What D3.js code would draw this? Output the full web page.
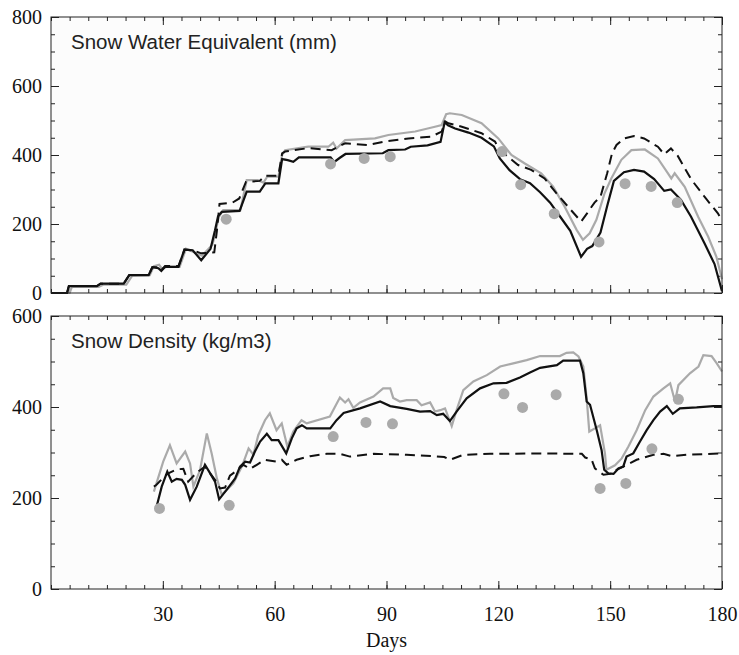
<!DOCTYPE html>
<html>
<head>
<meta charset="utf-8">
<script src="https://cdn.jsdelivr.net/npm/d3@7"></script>
<style>
  body { margin: 0; background: #fff; }
  .tick line { stroke: #222; }
  .num text { font-family: "Liberation Serif", "Times New Roman", serif; font-size: 20px; fill: #111; }
  .title { font-family: "Liberation Sans", Arial, sans-serif; font-size: 20.5px; fill: #222; }
  .xlabel { font-family: "Liberation Serif", "Times New Roman", serif; font-size: 20px; fill: #111; }
</style>
</head>
<body>
<script>
'use strict';

// ---- data ----
// snow water equivalent (mm), [day, value]
var sweBlack = [[0,0],[4.3,0],[4.8,20],[12.3,20],[13.3,27],[19.5,27],[21,52],[26.2,52],[27.2,75],[28.8,72],[29.6,64],[30.6,76],[34.2,76],[35.8,126],[38,124],[40.3,95],[42.8,128],[44,182],[44.8,222],[45.8,235],[50.6,238],[52.5,294],[56,294],[57.5,318],[61,318],[62,388],[63.5,385],[65,380],[66.5,393],[75,393],[76,380],[77.5,392],[79,403],[89,405],[90.5,414],[95,416],[96.5,424],[101,428],[104.5,438],[105.6,495],[106.5,486],[108.4,477],[112,465],[115.5,450],[118.8,425],[120.4,390],[123,356],[125.8,330],[128.5,318],[131.2,292],[133.9,262],[136.6,221],[139.3,180],[142.2,105],[143.8,128],[145.2,136],[147.4,175],[149.2,252],[151,325],[153.7,350],[156.4,357],[159.1,352],[161.8,330],[164.5,296],[166.3,300],[169,270],[171.7,221],[175.3,144],[178,84],[180,5]];
var sweDashed = [[0,0],[4.3,0],[4.8,20],[12.3,20],[13.3,27],[19.5,27],[21,52],[26.2,52],[27.2,75],[28.8,75],[29.6,66],[30.6,78],[34.2,78],[35.8,125],[38,124],[40.3,115],[43.8,118],[44.5,180],[45.2,258],[48.7,262],[50.5,274],[52.3,322],[56,325],[57.5,340],[61,340],[62,405],[62.8,410],[69,420],[75.3,414],[78.9,434],[85,429],[89.6,439],[95.9,448],[102,453],[104.8,468],[105.8,497],[106.6,492],[110.2,482],[115.5,463],[119.1,439],[120.4,414],[125.3,371],[128.8,357],[132.4,332],[135.6,289],[138.7,250],[142.2,207],[143.8,231],[145.8,262],[147.4,279],[149.2,347],[150.5,405],[151.7,429],[153.7,448],[156.4,455],[159.1,448],[162.8,424],[164.5,402],[166.3,419],[168.1,398],[171.7,330],[175.3,279],[178.9,231],[180,210]];
var sweGray = [[0,0],[5,0],[5.6,18],[12.8,18],[14,24],[20.2,24],[21.8,50],[26.5,52],[27.6,78],[29,82],[29.8,70],[31,76],[34.5,76],[36.2,128],[38.4,118],[40.5,108],[43.3,140],[44,170],[45,220],[46.2,240],[50.8,240],[52.5,327],[55.5,327],[57,320],[58,337],[61,337],[62,400],[62.8,414],[69,424],[74.4,424],[75.7,436],[76.6,419],[78.9,443],[86.9,448],[90.5,458],[97.7,468],[103,482],[104.8,487],[106,518],[107,521],[110.2,516],[115.5,492],[120,448],[123.5,400],[127,376],[131.5,347],[134.7,308],[137.8,250],[141,183],[142.7,154],[144.5,173],[146.3,212],[148.5,289],[150.3,332],[153,386],[155.7,414],[159.3,416],[162.8,390],[165.5,347],[166.4,332],[167.3,347],[170,308],[173.6,221],[176.3,163],[178.5,105],[180,40]];
var sweObsDays = [47, 75, 84, 91, 121, 126, 135, 147, 154, 161, 168];
var sweObs = [214, 374, 390, 395, 410, 314, 230, 148, 317, 309, 262];

// snow density (kg/m3), [day, value]
var rhoBlack = [[28.3,180],[29.7,225],[31.2,258],[32.4,236],[33.7,242],[35.1,240],[36,229],[37.3,196],[39.1,225],[41.3,273],[42.7,254],[44,236],[45.1,197],[47.1,218],[49.4,243],[50.7,269],[52.1,280],[53.4,278],[54.7,302],[56.1,324],[57.9,341],[59.2,327],[61,327],[63.1,298],[64.6,331],[65.9,353],[67.3,360],[68.6,353],[74.9,353],[76.6,371],[78.5,387],[82.9,397],[88.3,412],[91,402],[95.4,396],[99,390],[101.7,391],[103.5,382],[105.2,385],[107,369],[108.8,390],[111.5,419],[115.1,441],[118.7,452],[122.2,453],[125.8,465],[128.5,476],[131.2,486],[135.7,492],[137.4,502],[141.9,502],[142.8,474],[143.7,412],[144.6,405],[146.4,349],[147.7,305],[148.4,262],[149.5,254],[150.9,253],[152.2,265],[153.5,269],[154.4,291],[156.2,298],[158,324],[159.8,349],[161.6,371],[163.4,390],[165.2,402],[166.8,385],[168.7,397],[173.2,399],[177.7,402],[180,402]];
var rhoGray = [[27.6,214],[30.1,280],[31.9,316],[33.7,276],[36,302],[37.3,276],[38.2,225],[40,262],[41.8,342],[43.1,298],[44.5,243],[45.8,207],[48.9,232],[51.2,269],[53,309],[54.3,295],[55.6,338],[57.4,371],[58.7,386],[60.5,349],[61.9,364],[63.4,313],[65,346],[67.2,371],[68.6,364],[74.8,379],[77.5,421],[78.9,410],[79.8,417],[81.1,398],[82.9,410],[86.5,423],[89.1,441],[91,441],[91.8,420],[93.6,412],[95.4,415],[98.1,415],[99.4,404],[101.7,410],[103,390],[104.4,393],[105.7,397],[107.5,358],[108.8,393],[110.6,437],[113.3,456],[116.9,470],[120.5,489],[124,496],[127.6,503],[131.2,512],[136.5,512],[138.3,519],[140.1,520],[141.5,511],[142.8,489],[143.7,419],[144.4,346],[145.9,353],[147.3,360],[148.6,298],[149,262],[151.3,272],[153.1,287],[154.9,313],[157.1,349],[159.4,393],[161.6,423],[164.3,441],[166.1,452],[167.4,412],[168.3,448],[171.4,474],[173.7,489],[175,514],[177.2,512],[178.6,496],[180,478]];
var rhoDashed = [[27.6,225],[28.3,229],[30.6,249],[31.9,256],[33.7,263],[35.5,264],[36.8,236],[39.1,256],[41.3,269],[44,240],[45.3,221],[46.7,223],[48,249],[49.8,260],[51.6,273],[53.4,264],[55.2,273],[57.4,284],[60.6,280],[61.9,284],[63.2,273],[65.9,284],[69.5,292],[74,297],[77.5,297],[80.2,291],[86.5,297],[95.4,295],[102.6,292],[105.5,290],[107,284],[110.6,295],[117.8,297],[131.2,298],[142.4,297],[143.3,289],[145,285],[145.9,265],[148.2,251],[150,253],[151.7,262],[153.5,269],[157.1,284],[161.6,295],[164.3,297],[166.5,292],[170.5,295],[180,298]];
var rhoObsDays = [29.1, 47.8, 75.7, 84.5, 91.6, 121.5, 126.5, 135.5, 147.3, 154.2, 161.2, 168.3];
var rhoObs = [177, 184, 335, 366, 363, 429, 399, 427, 221, 232, 308, 417];

var dayTicks = [30, 60, 90, 120, 150, 180];
var sweTicks = [0, 200, 400, 600, 800];
var rhoTicks = [0, 200, 400, 600];

// ---- layout ----
var w = 739;
var h = 655;
var left = 51, right = 722;
var gray = "#aaaaaa";

var svg = d3.select("body")
            .append("svg")
            .attr("width", w)
            .attr("height", h);

var x = d3.scaleLinear().domain([0, 180]).range([left, right]);

var line = function(y) {
  return d3.line()
    .x(function(d) { return x(d[0]); })
    .y(function(d) { return y(d[1]); });
};

// one panel: frame, inward ticks on all four sides, curves and dots
var panel = function(opts) {
  var y = d3.scaleLinear().domain([0, opts.max]).range([opts.bottom, opts.top]);
  var g = svg.append("g");

  g.append("rect")
    .attr("x", left).attr("y", opts.top)
    .attr("width", right - left).attr("height", opts.bottom - opts.top)
    .attr("fill", "#fcfcfc");

  var minorX = d3.range(0, 181, 5);
  var minorY = d3.range(0, opts.max + 1, 50);

  // minor ticks
  g.append("g").attr("transform", "translate(0," + opts.bottom + ")")
    .call(d3.axisBottom(x).tickValues(minorX).tickSize(-4).tickFormat(""));
  g.append("g").attr("transform", "translate(0," + opts.top + ")")
    .call(d3.axisTop(x).tickValues(minorX).tickSize(-4).tickFormat(""));
  g.append("g").attr("transform", "translate(" + left + ",0)")
    .call(d3.axisLeft(y).tickValues(minorY).tickSize(-4).tickFormat(""));
  g.append("g").attr("transform", "translate(" + right + ",0)")
    .call(d3.axisRight(y).tickValues(minorY).tickSize(-4).tickFormat(""));

  // major ticks
  var bottomAxis = d3.axisBottom(x).tickValues(dayTicks).tickSize(-8).tickPadding(18);
  if (!opts.xLabels) bottomAxis.tickFormat("");
  g.append("g").attr("class", "num").attr("transform", "translate(0," + opts.bottom + ")")
    .call(bottomAxis);
  g.append("g").attr("transform", "translate(0," + opts.top + ")")
    .call(d3.axisTop(x).tickValues(dayTicks).tickSize(-8).tickFormat(""));
  g.append("g").attr("class", "num").attr("transform", "translate(" + left + ",0)")
    .call(d3.axisLeft(y).tickValues(opts.ticks).tickSize(-8).tickPadding(9));
  g.append("g").attr("transform", "translate(" + right + ",0)")
    .call(d3.axisRight(y).tickValues(opts.ticks).tickSize(-8).tickFormat(""));

  g.selectAll(".domain").remove();
  g.selectAll(".num text").attr("fill", "#111");

  // curves
  g.append("path").datum(opts.gray)
    .attr("d", line(y)).attr("fill", "none")
    .attr("stroke", gray).attr("stroke-width", 2.2);
  g.append("path").datum(opts.dashed)
    .attr("d", line(y)).attr("fill", "none")
    .attr("stroke", "#111").attr("stroke-width", 2)
    .attr("stroke-dasharray", "10,6");
  g.append("path").datum(opts.black)
    .attr("d", line(y)).attr("fill", "none")
    .attr("stroke", "#111").attr("stroke-width", 2.2);

  // observations
  g.selectAll(".obs")
    .data(opts.obsDays)
    .enter()
    .append("circle")
    .attr("class", "obs")
    .attr("cx", function(d) { return x(d); })
    .attr("cy", function(d, i) { return y(opts.obs[i]); })
    .attr("r", 5.5)
    .attr("fill", gray);

  // frame on top of everything
  g.append("rect")
    .attr("x", left).attr("y", opts.top)
    .attr("width", right - left).attr("height", opts.bottom - opts.top)
    .attr("fill", "none").attr("stroke", "#222").attr("stroke-width", 1);

  g.append("text")
    .attr("class", "title")
    .attr("x", 71).attr("y", opts.top + 32)
    .text(opts.title);
};

panel({
  top: 17, bottom: 293, max: 800, ticks: sweTicks,
  black: sweBlack, dashed: sweDashed, gray: sweGray,
  obsDays: sweObsDays, obs: sweObs,
  title: "Snow Water Equivalent (mm)", xLabels: false
});

panel({
  top: 316, bottom: 589, max: 600, ticks: rhoTicks,
  black: rhoBlack, dashed: rhoDashed, gray: rhoGray,
  obsDays: rhoObsDays, obs: rhoObs,
  title: "Snow Density (kg/m3)", xLabels: true
});

svg.append("text")
  .attr("class", "xlabel")
  .attr("x", x(90)).attr("y", 647)
  .attr("text-anchor", "middle")
  .text("Days");
</script>
</body>
</html>
